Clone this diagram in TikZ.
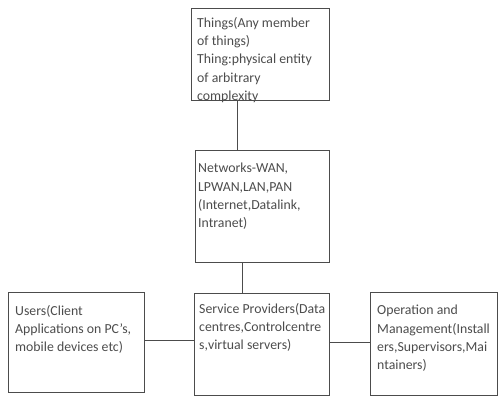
\documentclass[tikz,border=0pt]{standalone}
\usepackage{fontspec}
\setmainfont{Carlito}
\begin{document}
\begin{tikzpicture}[x=1pt,y=-1pt,
    blk/.style={draw=black!70,line width=1pt,anchor=north west,inner sep=0pt},
    txt/.style={anchor=north west,inner sep=0pt,align=left,text=black!70,
      font=\fontsize{13.8}{18.3}\selectfont}]
\useasboundingbox (0,0) rectangle (499,396);

% the five boxes
\node[blk,minimum width=138pt,minimum height=92pt] (things) at (191,8) {};
\node[blk,minimum width=134pt,minimum height=112pt] (networks) at (195,150) {};
\node[blk,minimum width=136pt,minimum height=100pt] (users) at (8,292) {};
\node[blk,minimum width=135pt,minimum height=102pt] (service) at (194,293) {};
\node[blk,minimum width=127pt,minimum height=103pt] (ops) at (370,292) {};

% their texts
\node[txt] (thingstxt) at ([xshift=6pt,yshift=-9pt]things.north west)
  {Things(Any member\\of things)\\Thing:physical entity\\of arbitrary\\complexity};
\node[txt] (networkstxt) at ([xshift=3pt,yshift=-13pt]networks.north west)
  {Networks-WAN,\\LPWAN,LAN,PAN\\(Internet,Datalink,\\Intranet)};
\node[txt] (userstxt) at ([xshift=7pt,yshift=-13pt]users.north west)
  {Users(Client\\Applications on PC's,\\mobile devices etc)};
\node[txt] (servicetxt) at ([xshift=5pt,yshift=-10pt]service.north west)
  {Service Providers(Data\\centres,Controlcentre\\s,virtual servers)};
\node[txt] (opstxt) at ([xshift=7pt,yshift=-13pt]ops.north west)
  {Operation and\\Management(Install\\ers,Supervisors,Mai\\ntainers)};

% connectors
\draw[black!70,line width=1pt] ([xshift=46pt]things.south west) -- ([xshift=42pt]networks.north west);
\draw[black!70,line width=1pt] ([xshift=47pt]networks.south west) -- ([xshift=48pt]service.north west);
\draw[black!70,line width=1pt] ([yshift=2pt]users.east) -- ([yshift=2pt]users.east -| service.west);
\draw[black!70,line width=1pt] ([yshift=2pt]service.east) -- ([yshift=2pt]service.east -| ops.west);
\end{tikzpicture}
\end{document}
